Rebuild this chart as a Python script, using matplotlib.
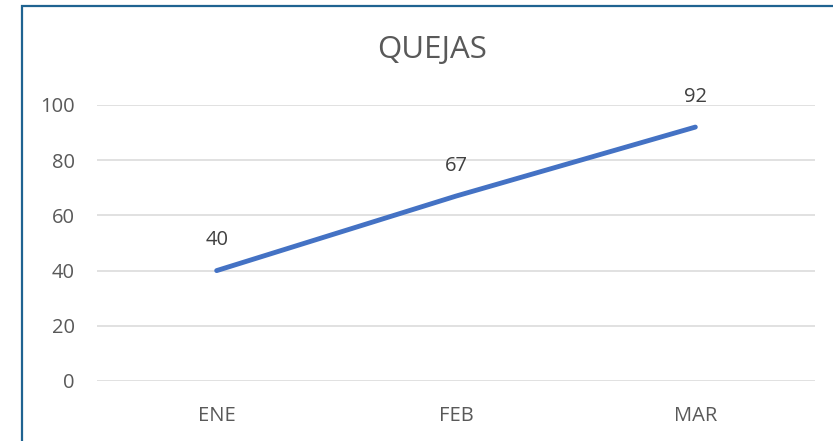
#!/usr/bin/env python3
# Gráfico de línea: QUEJAS por mes
import matplotlib
matplotlib.use("Agg")
import matplotlib.pyplot as plt
from matplotlib.patches import Rectangle

# Datos
meses = ["ENE", "FEB", "MAR"]
quejas = [40, 67, 92]
yticks = [0, 20, 40, 60, 80, 100]

LINE = "#4472C4"
GRID = "#D9D9D9"
TXT = "#595959"
BORDE = "#1F6391"

plt.rcParams.update({"font.family": ["Open Sans", "DejaVu Sans"]})

fig = plt.figure(figsize=(8.33, 4.41), dpi=100)
ax = fig.add_axes([97/833, 1 - 381/441, (815 - 97)/833, (381 - 105)/441])

x = list(range(len(meses)))
ax.plot(x, quejas, color=LINE, lw=3.5, solid_capstyle="round", zorder=3, clip_on=False)
for xi, v in zip(x, quejas):
    ax.annotate(str(v), xy=(xi, v), xytext=(0, 22), textcoords="offset points",
                ha="center", va="center", fontsize=14.5, color="#404040")

ax.set_xlim(-0.5, len(meses) - 0.5)
ax.set_ylim(0, 100)
ax.set_yticks(yticks)
ax.set_xticks(x)
ax.set_xticklabels(meses)
ax.yaxis.grid(True, color=GRID, lw=1.1)
ax.set_axisbelow(True)
for s in ["top", "right", "left", "bottom"]:
    ax.spines[s].set_visible(False)
ax.tick_params(axis="both", length=0, labelsize=14.5, colors=TXT)
ax.tick_params(axis="x", pad=18)
ax.tick_params(axis="y", pad=16)

fig.text(432/833, 1 - 50/441, "QUEJAS", ha="center", va="center",
         fontsize=22.5, color=TXT)

# Marco del gráfico (recortado a la derecha y abajo)
fig.patches.append(Rectangle((22/833, -0.1), 1.2, 1 - 6/441 + 0.1,
                             transform=fig.transFigure, fill=False,
                             ec=BORDE, lw=1.6, zorder=10))

fig.savefig("out.png", dpi=100, facecolor="white")
